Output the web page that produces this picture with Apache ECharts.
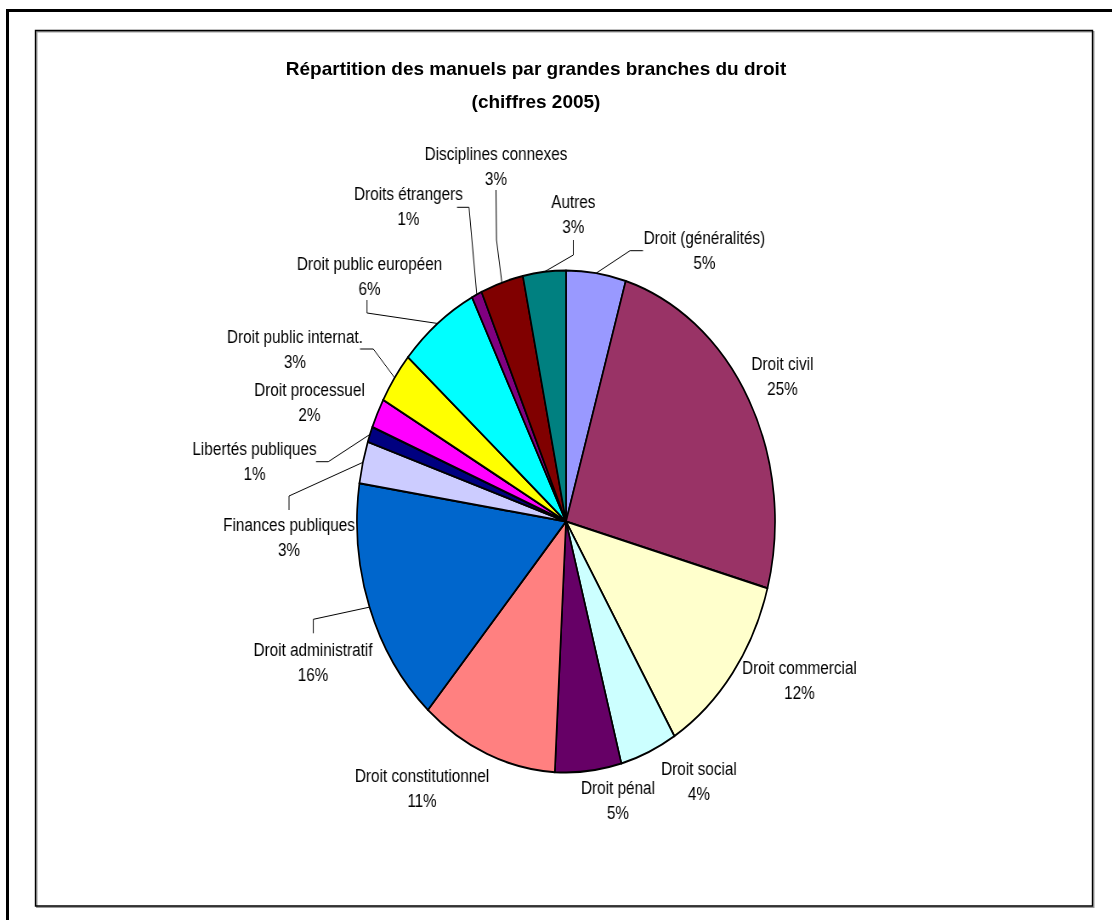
<!DOCTYPE html>
<html><head><meta charset="utf-8">
<script src="https://cdn.jsdelivr.net/npm/echarts@6/dist/echarts.min.js"></script>
<style>
html,body{margin:0;padding:0;background:#fff;}
#wrap{position:relative;width:1112px;height:920px;overflow:hidden;background:#fff;}
#pie{position:absolute;left:0;top:0;width:1112px;height:920px;transform:scaleX(0.8327);transform-origin:566px 0;}
#labels{position:absolute;left:0;top:0;width:1308px;height:920px;transform:scaleX(0.85);transform-origin:0 0;}
#main{position:absolute;left:0;top:0;width:1112px;height:920px;}
</style></head><body>
<div id="wrap"><div id="pie"></div><div id="labels"></div><div id="main"></div></div>
<script>
// ---- data ----
const categories = ['Droit (généralités)','Droit civil','Droit commercial','Droit social','Droit pénal','Droit constitutionnel','Droit administratif','Finances publiques','Libertés publiques','Droit processuel','Droit public internat.','Droit public européen','Droits étrangers','Disciplines connexes','Autres'];
const shares = [4.6, 24.6, 12.0, 4.4, 5.1, 10.6, 15.9, 2.7, 1.0, 1.9, 3.3, 6.2, 0.8, 3.3, 3.3];
const titleLines = ['Répartition des manuels par grandes branches du droit', '(chiffres 2005)'];

// ---- style / layout ----
const sliceColors = ['#9999FF','#993366','#FFFFCC','#CCFFFF','#660066','#FF8080','#0066CC','#CCCCFF','#000080','#FF00FF','#FFFF00','#00FFFF','#800080','#800000','#008080'];
const CX = 566, CY = 521.5, RY = 251, RX = 209;
const S = 0.85; // horizontal condensation of label text
const labelCenters = [[704.5,252],[782.5,377.5],[799.5,681.5],[699,782.5],[618,801.5],[422,789.5],[313,663.7],[289,538.3],[254.5,462.5],[309.5,403.5],[295,351],[369.5,277.5],[408.5,207.5],[496,167.5],[573.3,215.8]];
const leaders = {0:[[630,250.7],[643,250.7]], 6:[[313.3,619.3],[313.3,633.3]], 7:[[289,496],[289,510]], 8:[[328.3,461.7],[316,461.7]], 10:[[373.3,349],[360,349]], 11:[[367,313],[367,300]], 12:[[469,207.3],[457,207.3]], 13:[[496.5,240],[496,190]], 14:[[573.3,255],[573.3,240]]};
const LABEL_FONT = "'Liberation Sans', Arial, sans-serif";

// anchor points on the (elliptical) pie edge at each slice's mid angle
const total = shares.reduce((a, b) => a + b, 0);
let acc = 0;
const anchors = shares.map(v => {
  const t = (acc + v / 2) / total * 2 * Math.PI;
  acc += v;
  return [CX + RX * Math.sin(t), CY - RY * Math.cos(t)];
});
const sx = p => [p[0] / S, p[1]];

// ---- pie (stretched to an ellipse via CSS) ----
const pie = echarts.init(document.getElementById('pie'), null, {renderer: 'svg'});
pie.setOption({
  animation: false,
  series: [{
    type: 'pie', center: [CX, CY], radius: RY, startAngle: 90, clockwise: true,
    label: {show: false}, labelLine: {show: false}, emphasis: {disabled: true},
    itemStyle: {borderColor: '#000', borderWidth: 2},
    data: categories.map((n, i) => ({name: n, value: shares[i], itemStyle: {color: sliceColors[i]}}))
  }]
});

// ---- data labels (condensed via CSS) ----
const lab = echarts.init(document.getElementById('labels'));
lab.setOption({
  animation: false,
  backgroundColor: 'transparent',
  series: [{
    type: 'pie', center: [CX / S, CY], radius: RY, startAngle: 90, clockwise: true, silent: true,
    itemStyle: {color: 'rgba(0,0,0,0)', borderWidth: 0},
    emphasis: {disabled: true},
    label: {
      show: true, position: 'outside',
      formatter: p => p.name + '\n' + Math.round(p.percent) + '%',
      fontFamily: LABEL_FONT, fontSize: 18, lineHeight: 25, color: '#000', align: 'center'
    },
    labelLine: {show: true, lineStyle: {color: '#000', width: 1}},
    labelLayout: function (p) {
      const i = p.dataIndex, c = labelCenters[i];
      const o = {x: c[0] / S, y: c[1], align: 'center', verticalAlign: 'middle'};
      if (leaders[i]) o.labelLinePoints = [sx(anchors[i]), sx(leaders[i][0]), sx(leaders[i][1])];
      return o;
    },
    data: categories.map((n, i) => ({name: n, value: shares[i], labelLine: {show: !!leaders[i]}}))
  }]
});

// ---- title and frames ----
const main = echarts.init(document.getElementById('main'));
main.setOption({
  animation: false,
  backgroundColor: 'transparent',
  title: {
    text: titleLines.join('\n'), left: 536, top: 53, padding: 0, textAlign: 'center',
    textStyle: {fontFamily: "'Liberation Sans', Arial, sans-serif", fontSize: 19, fontWeight: 'bold', color: '#000', lineHeight: 33}
  },
  graphic: [
    {type: 'rect', silent: true, shape: {x: 7.5, y: 10.5, width: 1200, height: 1000}, style: {fill: 'none', stroke: '#000', lineWidth: 3}},
    {type: 'rect', silent: true, shape: {x: 36.8, y: 31.8, width: 1057, height: 875.5}, style: {fill: 'none', stroke: '#999', lineWidth: 1.4}},
    {type: 'rect', silent: true, shape: {x: 35.5, y: 30.5, width: 1057, height: 875.5}, style: {fill: 'none', stroke: '#000', lineWidth: 1.4}}
  ]
});
</script>
</body></html>
